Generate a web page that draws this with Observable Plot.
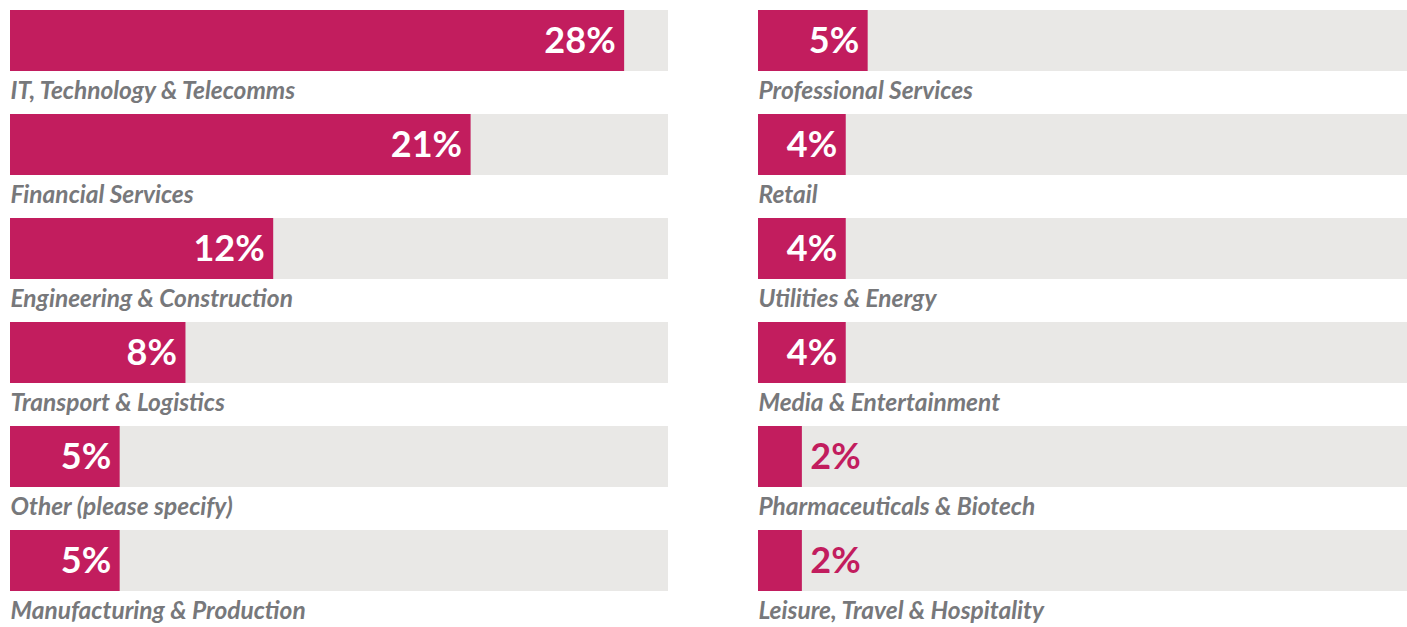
<!DOCTYPE html>
<html>
<head>
<meta charset="utf-8">
<script src="https://cdn.jsdelivr.net/npm/d3@7"></script>
<script src="https://cdn.jsdelivr.net/npm/@observablehq/plot@0.6"></script>
<style>
  html, body { margin: 0; padding: 0; background: #fff; overflow: hidden; }
  #wrap { position: relative; width: 1407px; height: 627px; overflow: hidden; }
  #left { position: absolute; left: 0; top: 0; width: 668px; }
  #right { position: absolute; left: 748px; top: 0; width: 668px; }
  #wrap svg { max-width: none !important; }
</style>
</head>
<body>
<div id="wrap"><div id="left"></div><div id="right"></div></div>
<script>
const leftCategories = ["IT, Technology & Telecomms", "Financial Services", "Engineering & Construction", "Transport & Logistics", "Other (please specify)", "Manufacturing & Production"];
const leftValues = [28, 21, 12, 8, 5, 5];
const rightCategories = ["Professional Services", "Retail", "Utilities & Energy", "Media & Entertainment", "Pharmaceuticals & Biotech", "Leisure, Travel & Hospitality"];
const rightValues = [5, 4, 4, 4, 2, 2];
const maxValue = 30;

const barColor = "#C21D5E";
const trackColor = "#E9E8E6";
const labelColor = "#77787B";

function chart(categories, values) {
  const data = categories.map((c, i) => ({category: c, value: values[i]}));
  const inside = data.filter(d => d.value >= 3);
  const outside = data.filter(d => d.value < 3);
  return Plot.plot({
    width: 668,
    height: 627,
    marginLeft: 10,
    marginRight: 0,
    marginTop: 10,
    marginBottom: 35,
    x: {domain: [0, maxValue], axis: null},
    y: {domain: categories, axis: null, paddingInner: 0.415, paddingOuter: 0, align: 0},
    style: {fontFamily: "Lato, sans-serif", background: "transparent"},
    marks: [
      Plot.barX(data, {x1: 0, x2: maxValue, y: "category", fill: trackColor}),
      Plot.barX(data, {x1: 0, x2: "value", y: "category", fill: barColor}),
      Plot.text(inside, {x: "value", y: "category", text: d => d.value + "%", textAnchor: "end", dx: -9, fill: "white", fontSize: 36, fontWeight: "bold", lineAnchor: "middle"}),
      Plot.text(outside, {x: "value", y: "category", text: d => d.value + "%", textAnchor: "start", dx: 8, fill: barColor, fontSize: 36, fontWeight: "bold", lineAnchor: "middle"}),
      Plot.text(data, {x: 0, y: "category", text: "category", textAnchor: "start", dy: 50, fill: labelColor, fontSize: 24.5, fontStyle: "italic", fontWeight: "bold", lineAnchor: "middle"})
    ]
  });
}

document.getElementById("left").appendChild(chart(leftCategories, leftValues));
document.getElementById("right").appendChild(chart(rightCategories, rightValues));
</script>
</body>
</html>
